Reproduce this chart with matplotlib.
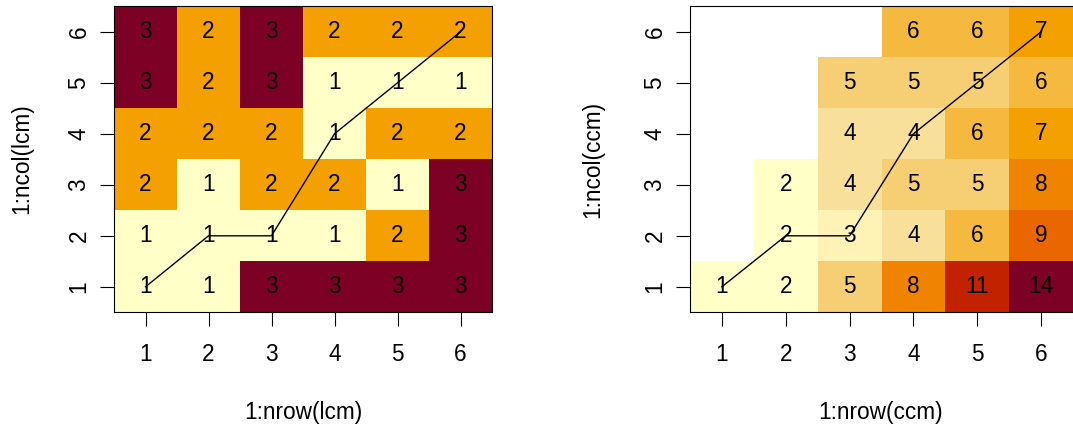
import numpy as np
import matplotlib
matplotlib.use("Agg")
import matplotlib.pyplot as plt
from matplotlib.colors import ListedColormap, BoundaryNorm

plt.rcParams['font.family'] = ['Liberation Sans', 'DejaVu Sans']

# Data (rows listed from top y=6 down to y=1; columns x=1..6)
lcm_rows = [
    [3, 2, 3, 2, 2, 2],
    [3, 2, 3, 1, 1, 1],
    [2, 2, 2, 1, 2, 2],
    [2, 1, 2, 2, 1, 3],
    [1, 1, 1, 1, 2, 3],
    [1, 1, 3, 3, 3, 3],
]
ccm_rows = [
    [None, None, None, 6, 6, 7],
    [None, None, 5, 5, 5, 6],
    [None, None, 4, 4, 6, 7],
    [None, 2, 4, 5, 5, 8],
    [None, 2, 3, 4, 6, 9],
    [1, 2, 5, 8, 11, 14],
]
path_x = [1, 2, 3, 4, 5, 6]
path_y = [1, 2, 2, 4, 5, 6]
x_ticks = [1, 2, 3, 4, 5, 6]
y_ticks = [1, 2, 3, 4, 5, 6]

palette = ["#FFFFC8", "#FEF2B4", "#F9E09A", "#F6CF74", "#F5B940", "#F4A000",
           "#F08400", "#E96600", "#D94500", "#C32200", "#A2001A", "#7D0025"]

W, H = 1073, 426
FS = 16.3
fig = plt.figure(figsize=(W / 100, H / 100), dpi=100)


def to_grid(rows):
    arr = np.array([[np.nan if v is None else v for v in r] for r in rows], dtype=float)
    return np.ma.masked_invalid(arr[::-1])  # row 0 -> y=1


def draw(ax, rows, xlab, ylab, xl_center, yl_center):
    z = to_grid(rows)
    zmin, zmax = float(z.min()), float(z.max())
    nc = len(palette)
    k = np.arange(nc + 1)
    bounds = zmin + (zmax - zmin) * (k - 1e-7) / (nc - 1e-5)
    bounds[0] = zmin - 1
    bounds[-1] = zmax + 1
    cmap = ListedColormap(palette)
    norm = BoundaryNorm(bounds, nc, clip=True)
    xe = np.arange(0.5, 7, 1.0)
    ax.pcolormesh(xe, xe, z, cmap=cmap, norm=norm, shading='flat')
    for j in range(z.shape[0]):
        for i in range(z.shape[1]):
            if not np.ma.is_masked(z[j, i]):
                ax.text(i + 1, j + 1, f"{int(z[j, i])}", ha='center', va='center',
                        fontsize=FS, color='black')
    ax.plot(path_x, path_y, color='black', lw=1.0)
    ax.set_xlim(0.5, 6.5)
    ax.set_ylim(0.5, 6.5)
    ax.set_xticks(x_ticks)
    ax.set_yticks(y_ticks)
    ax.set_xticklabels([str(t) for t in x_ticks])
    ax.set_yticklabels([str(t) for t in y_ticks], rotation=90, va='center')
    ax.tick_params(axis='both', length=10, width=0.8, labelsize=FS)
    ax.tick_params(axis='x', pad=12)
    ax.tick_params(axis='y', pad=7)
    for s in ax.spines.values():
        s.set_linewidth(0.8)
    fig.text(xl_center / W, 1 - 412 / H, xlab, ha='center', va='center', fontsize=FS)
    fig.text(yl_center / W, 1 - 159 / H, ylab, ha='center', va='center', fontsize=FS,
             rotation=90)


bottom = (H - 312.3) / H
height = 306 / H
ax1 = fig.add_axes([114 / W, bottom, 378 / W, height])
ax2 = fig.add_axes([690 / W, bottom, 383 / W, height])
draw(ax1, lcm_rows, "1:nrow(lcm)", "1:ncol(lcm)", 303, 22)
draw(ax2, ccm_rows, "1:nrow(ccm)", "1:ncol(ccm)", 881, 593)
ax2.spines['right'].set_visible(False)

fig.savefig("out.png", dpi=100)
